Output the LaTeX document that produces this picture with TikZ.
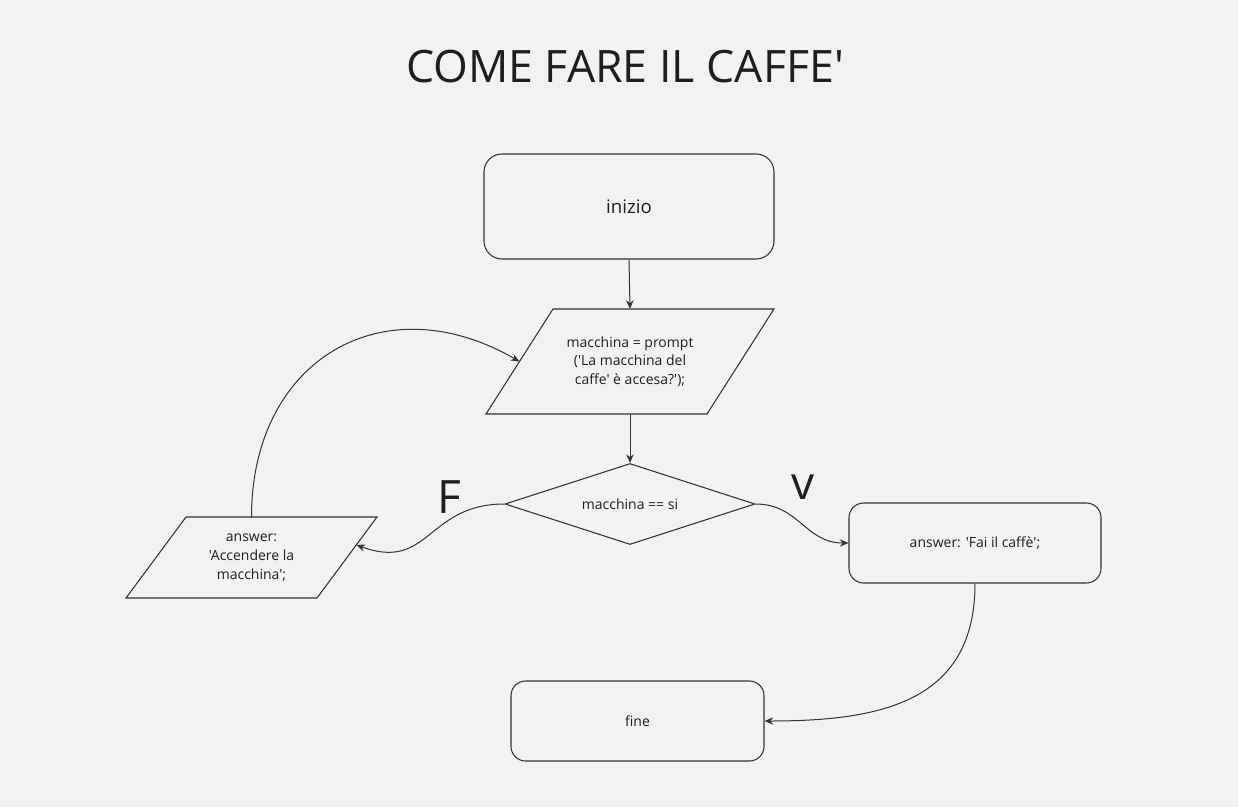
\documentclass[tikz,border=0pt]{standalone}
\usepackage{fontspec}
\setmainfont{Open Sans}[Ligatures=TeXOff]
\usetikzlibrary{shapes.geometric,arrows.meta,calc}
\definecolor{bgcol}{HTML}{F2F2F2}
\definecolor{edge}{HTML}{333333}
\definecolor{ink}{HTML}{1E1E1E}
\tikzset{
  startstop/.style={draw=edge, line width=0.8pt, rounded corners=11pt, align=center, text=ink, font=\fontsize{10.5}{14}\selectfont},
  inout/.style={inner sep=0pt, align=center, text=ink, font=\fontsize{10.5}{14}\selectfont},
  outline/.style={draw=edge, line width=0.8pt, line join=miter},
  decision/.style={draw=edge, line width=0.8pt, diamond, aspect=3, inner sep=0pt, text=ink, font=\fontsize{10.5}{14}\selectfont},
  bigtext/.style={text=ink, font=\fontsize{33.5}{40}\selectfont},
  arr/.style={draw=edge, line width=0.75pt, -{Stealth[length=6.5pt,width=5.5pt]}},
}
\begin{document}
\begin{tikzpicture}[x=0.75pt, y=-0.75pt]
\fill[bgcol] (0,0) rectangle (1238,807);
\useasboundingbox (0,0) rectangle (1238,807);

\node[bigtext] (title) at (625,67) {COME FARE IL CAFFE'};

% blocchi
\node[startstop, minimum width=217.5pt, minimum height=78.75pt, rounded corners=13.5pt, font=\fontsize{14}{17}\selectfont] (inizio) at (629,206.5) {inizio};
\node[inout] (input) at (630,361.5) {macchina = prompt\\('La macchina del\\caffe' è accesa?');};
\draw[outline] ($(input)+(-144,52.5)$) -- ++(221,0) -- ++(67,-105) -- ++(-221,0) -- cycle;
\node[decision, minimum width=187.5pt, minimum height=60.75pt] (test) at (630,504) {macchina == si};
\node[inout] (answerF) at (251.5,557.5) {answer:\\'Accendere la\\macchina';};
\draw[outline] ($(answerF)+(-125.5,40.5)$) -- ++(191,0) -- ++(60,-81) -- ++(-191,0) -- cycle;
\node[startstop, minimum width=189pt, minimum height=60pt] (answerV) at (975,543) {answer: 'Fai il caffè';};
\node[startstop, minimum width=189.75pt, minimum height=60pt] (fine) at (637.5,721) {fine};

\node[bigtext, font=\fontsize{34.5}{40}\selectfont] (labF) at (449,497) {F};
\node[bigtext, font=\fontsize{34.5}{40}\selectfont] (labV) at (803,487) {v};

\coordinate (inputTop) at ($(input)+(0,-52.5)$);
\coordinate (inputBottom) at ($(input)+(0,52.5)$);
\coordinate (inputLeft) at ($(input)+(-110.5,0)$);
\coordinate (answerFTop) at ($(answerF)+(0,-40.5)$);
\coordinate (answerFRight) at ($(answerF)+(105,-12.5)$);

% frecce
\draw[arr] (inizio.south) -- (inputTop);
\draw[arr] (inputBottom) -- (test.north);
\draw[arr] (test.west) to[out=180, in=-20, looseness=1.3] (answerFRight);
\draw[arr] (answerFTop) to[out=90, in=150, looseness=1.3] (inputLeft);
\draw[arr] (test.east) to[out=0, in=180, looseness=1.1] (answerV.west);
\draw[arr] (answerV.south) to[out=-90, in=0, looseness=1.2] (fine.east);
\end{tikzpicture}
\end{document}
